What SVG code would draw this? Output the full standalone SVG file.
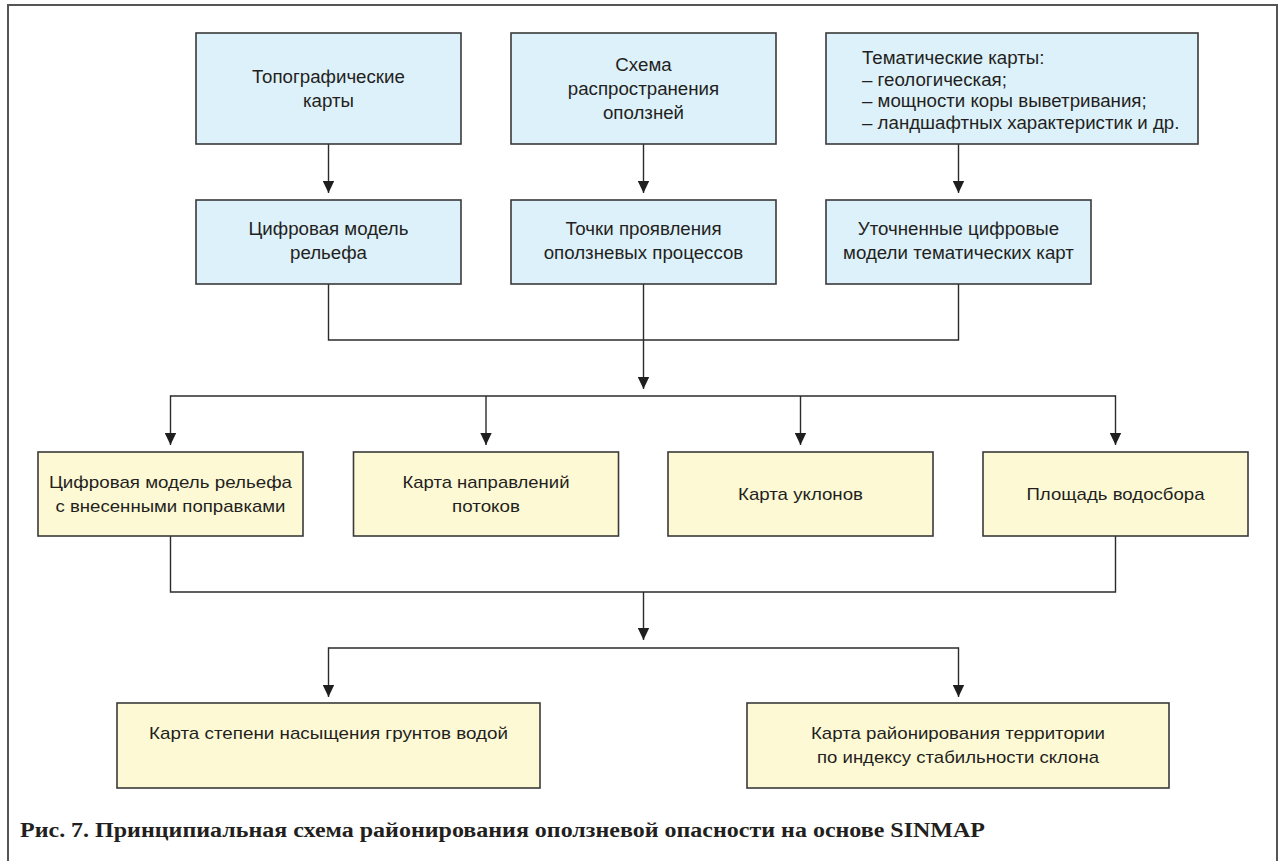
<svg xmlns="http://www.w3.org/2000/svg" width="1281" height="861" viewBox="0 0 1281 861">
  <style>
    .blue { fill: #ddf1fb; stroke: #3a3a3a; stroke-width: 1.6; }
    .yellow { fill: #fef9d5; stroke: #3a3a3a; stroke-width: 1.6; }
    .lbl { font-family: "Liberation Sans", Arial, sans-serif; font-size: 18.7px; fill: #231f20; text-anchor: middle; }
    .lbl-l { font-family: "Liberation Sans", Arial, sans-serif; font-size: 18.7px; fill: #231f20; }
    .lbl-n { font-family: "Liberation Sans", Arial, sans-serif; font-size: 17px; fill: #231f20; text-anchor: middle; }
    .wire { fill: none; stroke: #2b2b2b; stroke-width: 1.4; }
    .cap { font-family: "Liberation Serif", "Times New Roman", serif; font-size: 20.5px; font-weight: bold; fill: #231f20; }
  </style>
  <defs>
    <marker id="arrow" viewBox="0 0 12 12" refX="12" refY="6" markerWidth="12" markerHeight="12" markerUnits="userSpaceOnUse" orient="auto">
      <path d="M0,0.3 L12,6 L0,11.7 Z" fill="#1f1f1f"/>
    </marker>
  </defs>

  <rect width="1281" height="861" fill="#ffffff"/>
  <!-- outer frame, open at the bottom edge -->
  <rect x="8" y="5" width="1269" height="870" fill="none" stroke="#555555" stroke-width="2"/>

  <!-- connectors -->
  <g id="connectors">
    <line class="wire" x1="328.5" y1="144" x2="328.5" y2="193" marker-end="url(#arrow)"/>
    <line class="wire" x1="643.5" y1="144" x2="643.5" y2="193" marker-end="url(#arrow)"/>
    <line class="wire" x1="958.5" y1="144" x2="958.5" y2="193" marker-end="url(#arrow)"/>

    <polyline class="wire" points="328.5,284 328.5,340 958.5,340 958.5,284"/>
    <line class="wire" x1="643.5" y1="284" x2="643.5" y2="389" marker-end="url(#arrow)"/>

    <line class="wire" x1="170.5" y1="396" x2="1115.5" y2="396"/>
    <line class="wire" x1="170.5" y1="395.3" x2="170.5" y2="445" marker-end="url(#arrow)"/>
    <line class="wire" x1="486" y1="396" x2="486" y2="445" marker-end="url(#arrow)"/>
    <line class="wire" x1="800.5" y1="396" x2="800.5" y2="445" marker-end="url(#arrow)"/>
    <line class="wire" x1="1115.5" y1="395.3" x2="1115.5" y2="445" marker-end="url(#arrow)"/>

    <polyline class="wire" points="170.5,536 170.5,592 1115.5,592 1115.5,536"/>
    <line class="wire" x1="643.5" y1="592" x2="643.5" y2="640" marker-end="url(#arrow)"/>

    <line class="wire" x1="328.5" y1="648" x2="958.5" y2="648"/>
    <line class="wire" x1="328.5" y1="647.3" x2="328.5" y2="697" marker-end="url(#arrow)"/>
    <line class="wire" x1="958.5" y1="647.3" x2="958.5" y2="697" marker-end="url(#arrow)"/>
  </g>

  <!-- source maps -->
  <g id="topo">
    <rect class="blue" x="196" y="33" width="265" height="111"/>
    <text class="lbl" x="328.5" y="83">Топографические</text>
    <text class="lbl" x="328.5" y="107">карты</text>
  </g>
  <g id="scheme">
    <rect class="blue" x="511" y="33" width="265" height="111"/>
    <text class="lbl" x="643.5" y="71">Схема</text>
    <text class="lbl" x="643.5" y="95">распространения</text>
    <text class="lbl" x="643.5" y="119">оползней</text>
  </g>
  <g id="thematic">
    <rect class="blue" x="826" y="33" width="372" height="111"/>
    <text class="lbl-l" x="862" y="64">Тематические карты:</text>
    <text class="lbl-l" x="862" y="85.5">– геологическая;</text>
    <text class="lbl-l" x="862" y="107">– мощности коры выветривания;</text>
    <text class="lbl-l" x="862" y="128.5">– ландшафтных характеристик и др.</text>
  </g>

  <!-- derived digital models -->
  <g id="dem">
    <rect class="blue" x="196" y="200" width="265" height="84"/>
    <text class="lbl" x="328.5" y="235">Цифровая модель</text>
    <text class="lbl" x="328.5" y="259">рельефа</text>
  </g>
  <g id="points">
    <rect class="blue" x="511" y="200" width="265" height="84"/>
    <text class="lbl" x="643.5" y="235">Точки проявления</text>
    <text class="lbl" x="643.5" y="259">оползневых процессов</text>
  </g>
  <g id="refined">
    <rect class="blue" x="826" y="200" width="265" height="84"/>
    <text class="lbl" x="958.5" y="235">Уточненные цифровые</text>
    <text class="lbl" x="958.5" y="259">модели тематических карт</text>
  </g>

  <!-- SINMAP input layers -->
  <g id="dem-corrected">
    <rect class="yellow" x="38" y="452" width="265" height="84"/>
    <text class="lbl-n" x="170.5" y="488" textLength="243" lengthAdjust="spacingAndGlyphs">Цифровая модель рельефа</text>
    <text class="lbl-n" x="170.5" y="512" textLength="230" lengthAdjust="spacingAndGlyphs">с внесенными поправками</text>
  </g>
  <g id="flow-dir">
    <rect class="yellow" x="353.5" y="452" width="265" height="84"/>
    <text class="lbl-n" x="486" y="488" textLength="167" lengthAdjust="spacingAndGlyphs">Карта направлений</text>
    <text class="lbl-n" x="486" y="512" textLength="68" lengthAdjust="spacingAndGlyphs">потоков</text>
  </g>
  <g id="slope">
    <rect class="yellow" x="668" y="452" width="265" height="84"/>
    <text class="lbl-n" x="800.5" y="500" textLength="125" lengthAdjust="spacingAndGlyphs">Карта уклонов</text>
  </g>
  <g id="catchment">
    <rect class="yellow" x="983" y="452" width="265" height="84"/>
    <text class="lbl-n" x="1115.5" y="500" textLength="178" lengthAdjust="spacingAndGlyphs">Площадь водосбора</text>
  </g>

  <!-- results -->
  <g id="wetness">
    <rect class="yellow" x="117" y="703" width="423" height="85"/>
    <text class="lbl-n" x="328.5" y="739" textLength="359" lengthAdjust="spacingAndGlyphs">Карта степени насыщения грунтов водой</text>
  </g>
  <g id="stability">
    <rect class="yellow" x="747" y="703" width="422" height="85"/>
    <text class="lbl-n" x="958" y="739" textLength="294" lengthAdjust="spacingAndGlyphs">Карта районирования территории</text>
    <text class="lbl-n" x="958" y="763" textLength="282" lengthAdjust="spacingAndGlyphs">по индексу стабильности склона</text>
  </g>

  <text class="cap" x="20" y="837" textLength="965" lengthAdjust="spacingAndGlyphs">Рис. 7. Принципиальная схема районирования оползневой опасности на основе SINMAP</text>
</svg>
